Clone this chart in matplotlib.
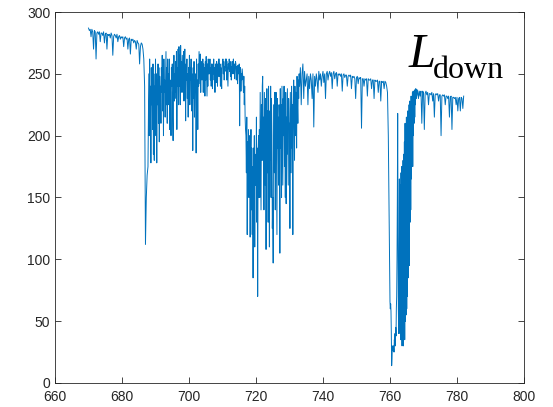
import numpy as np
import matplotlib.pyplot as plt

# radiance, in segments: (start nm, step nm, values)
seg1_start, seg1_step = 670.0, 0.25
seg1 = [
    287, 285, 286, 280, 286, 284, 270, 285, 284, 262, 283, 284, 282, 284, 276, 283,
    283, 281, 284, 275, 282, 283, 270, 282, 281, 282, 279, 283, 281, 265, 280, 282,
    281, 279, 282, 276, 280, 281, 278, 280, 279, 280, 272, 279, 280, 278, 279, 270,
    278, 279, 266, 278, 277, 278, 275, 277, 276, 270, 277, 275, 274, 258, 272, 275,
    274, 270, 262, 240, 112, 150, 168, 175,
]

seg2_start, seg2_step = 688.0, 0.125
seg2 = [
    250, 200, 262, 215, 240, 178, 255, 225,
    245, 205, 258, 185, 250, 180, 240, 220,
    262, 200, 250, 178, 245, 225, 258, 210,
    255, 195, 248, 230, 240, 210, 255, 235,
    265, 220, 250, 200, 262, 235, 245, 215,
    240, 268, 225, 255, 210, 262, 238, 250,
    225, 262, 205, 245, 235, 200, 255, 240,
    258, 215, 196, 240, 265, 228, 250, 235,
    260, 230, 268, 205, 255, 240, 270, 225,
    272, 240, 265, 225, 273, 250, 260, 235,
    265, 250, 235, 268, 228, 258, 270, 245,
    212, 258, 245, 262, 230, 250, 215, 255,
    240, 265, 225, 255, 245, 262, 220, 250,
    248, 188, 255, 230, 260, 215, 245, 235,
    250, 186, 262, 228, 245, 205, 258, 240,
    268, 255, 242, 266, 235, 260, 250, 245,
    250, 262, 235, 258, 240, 255, 232, 260,
    245, 264, 248, 232, 258, 240, 262, 250,
    260, 250, 262, 245, 255, 240, 258, 252,
    238, 258, 250, 262, 245, 255, 235, 258,
    255, 243, 260, 252, 240, 258, 248, 262,
    262, 248, 258, 240, 255, 250, 238, 258,
    258, 262, 250, 260, 245, 256, 252, 262,
    255, 262, 245, 260, 250, 240, 258, 254,
    262, 252, 258, 248, 260, 245, 256, 250,
    260, 255, 262, 250, 258, 246, 255, 260,
    258, 245, 256, 252, 242, 257, 250, 255,
    258, 208, 252, 255, 236, 250, 245, 254,
    250, 245, 235, 248, 225, 240, 215, 205,
    200, 170, 215, 120, 195, 150, 205, 180,
    150, 200, 118, 180, 205, 140, 190, 120,
    175, 85, 190, 140, 200, 110, 185, 160,
    160, 215, 130, 190, 70, 185, 200, 150,
    205, 150, 235, 190, 140, 225, 180, 240,
    248, 180, 215, 140, 235, 200, 160, 230,
    108, 200, 238, 170, 220, 130, 240, 185,
    110, 220, 180, 240, 150, 230, 200, 125,
    150, 97, 225, 200, 170, 235, 140, 215,
    235, 170, 120, 230, 190, 215, 160, 225,
    210, 105, 238, 190, 225, 150, 240, 200,
    160, 230, 200, 240, 175, 220, 150, 235,
    145, 215, 185, 238, 200, 160, 230, 210,
    210, 125, 235, 200, 170, 240, 190, 225,
    120, 225, 245, 215, 180, 240, 200, 235,
    235, 190, 248, 225, 210, 245, 230, 250,
]

seg3_start, seg3_step = 733.0, 0.25
seg3 = [
    240, 255, 225, 250, 258, 230, 252, 240, 245, 250, 225, 248, 238, 250, 245, 230,
    250, 207, 248, 240, 250, 245, 235, 252, 245, 250, 240, 248, 252, 243, 250, 230,
    250, 252, 245, 250, 252, 248, 251, 238, 250, 252, 246, 250, 251, 240, 250, 249,
    250, 248, 250, 236, 249, 250, 247, 249, 249, 240, 248, 249, 248, 249, 238, 248,
    247, 248, 246, 230, 247, 248, 242, 247, 246, 247, 206, 246, 246, 240, 246, 245,
    246, 232, 246, 245, 245, 246, 238, 245, 245, 230, 245, 244, 244, 245, 235, 244,
    244, 228, 244, 243, 244, 238, 244, 243, 240, 235, 200, 130,
]

seg4_start, seg4_step = 760.0, 0.1
seg4 = [
    66, 60, 64, 58, 40, 14, 20, 30, 28, 26,
    28, 30, 25, 35, 32, 40, 30, 45, 38, 60,
    70, 100, 150, 218, 120, 60, 40, 90, 165, 50,
    40, 160, 35, 170, 45, 175, 30, 150, 38, 180,
    30, 185, 45, 195, 35, 210, 50, 200, 55, 215,
    60, 205, 70, 220, 85, 215, 100, 225, 95, 228,
    130, 225, 140, 232, 165, 230, 180, 235, 175, 236,
    200, 234, 210, 237, 215, 236, 225, 238, 230, 237,
]

seg5_start, seg5_step = 768.0, 0.25
seg5 = [
    232, 237, 230, 236, 232, 236, 210, 236, 235, 205, 234, 236, 233, 235, 225, 234,
    234, 233, 235, 228, 234, 215, 233, 234, 233, 234, 228, 233, 233, 200, 232, 233,
    232, 233, 225, 232, 232, 230, 232, 215, 231, 232, 205, 231, 231, 230, 231, 225,
    231, 220, 230, 231, 220, 231, 230, 222, 232,
]

segments = [
    (seg1_start, seg1_step, seg1),
    (seg2_start, seg2_step, seg2),
    (seg3_start, seg3_step, seg3),
    (seg4_start, seg4_step, seg4),
    (seg5_start, seg5_step, seg5),
]
wavelength = np.concatenate([s + d * np.arange(len(v)) for s, d, v in segments])
radiance = np.concatenate([np.array(v, dtype=float) for _, _, v in segments])

x_ticks = [660, 680, 700, 720, 740, 760, 780, 800]
y_ticks = [0, 50, 100, 150, 200, 250, 300]

plt.rcParams['font.family'] = ['Liberation Sans', 'DejaVu Sans']

fig = plt.figure(figsize=(5.53, 4.07), dpi=100)
ax = fig.add_axes([0.0995, 0.059, 0.848, 0.9115])

ax.plot(wavelength, radiance, color='#0072BD', linewidth=0.7)

ax.set_xlim(660, 800)
ax.set_ylim(0, 300)
ax.set_xticks(x_ticks)
ax.set_yticks(y_ticks)
ax.tick_params(direction='in', top=True, right=True, length=4, width=0.6,
               labelsize=10, colors='#262626', pad=3.5)
ax.tick_params(axis='x', pad=5)
for s in ax.spines.values():
    s.set_linewidth(0.6)
    s.set_color('#262626')

# label in the upper right: italic L with a roman subscript
fig.text(0.738, 0.835, 'L', family='Liberation Serif', style='italic',
         fontsize=35, va='baseline')
fig.text(0.783, 0.808, 'down', family='Liberation Serif', fontsize=23,
         va='baseline')

fig.savefig('out.png', dpi=100)
